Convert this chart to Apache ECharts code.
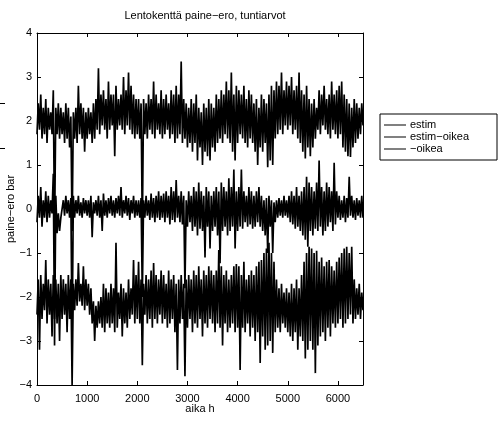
<!DOCTYPE html>
<html><head><meta charset="utf-8">
<script src="https://cdn.jsdelivr.net/npm/echarts@6/dist/echarts.min.js"></script>
<style>html,body{margin:0;padding:0;background:#fff}#c{width:501px;height:421px}</style>
</head><body><div id="c"></div>
<script>
// hourly pressure difference, read per 50 h column (t = 50*i): local low and high
const stepHours = 50;
const seriesNames = ['estim', 'estim\u2212oikea', '\u2212oikea'];
const xTicks = [0, 1000, 2000, 3000, 4000, 5000, 6000];
const yTicks = [-4, -3, -2, -1, 0, 1, 2, 3, 4];

const uHi = [2.4,2.6,2.3,2.5,2.3,2.2,2.7,2.3,2.4,2.3,
 2.2,2.4,2.3,2.1,2.2,2.3,2.8,2.4,2.3,2.2,
 2.3,2.2,2.4,2.5,3.2,2.6,2.7,2.5,2.9,2.6,
 2.6,2.8,2.5,2.6,3.0,2.7,3.1,2.8,2.6,2.5,
 2.5,2.4,2.5,2.4,2.6,2.5,2.9,2.6,2.4,2.7,
 2.5,2.6,2.4,2.7,2.6,2.8,2.6,3.35,2.5,2.4,
 2.3,2.5,2.4,2.6,2.3,2.2,2.4,2.3,2.5,2.4,
 2.3,2.6,2.5,2.7,2.6,2.9,2.7,3.1,2.6,2.8,
 2.7,2.6,2.8,2.5,2.7,2.6,2.4,2.5,2.3,2.6,
 2.5,2.4,2.6,2.8,2.7,2.9,2.8,3.1,2.7,2.9,
 2.8,3.0,2.7,2.8,3.1,2.7,2.6,2.8,2.5,2.4,
 2.5,2.3,2.7,2.6,2.8,2.5,2.6,2.9,2.6,2.7,
 2.8,2.9,2.6,2.5,2.4,2.3,2.5,2.4,2.3,2.4,2.3];
const uLo = [1.7,1.8,1.6,1.7,1.5,1.8,1.7,-0.6,1.7,1.6,
 1.7,1.5,1.6,1.4,-0.5,1.6,1.5,1.7,1.6,1.3,
 1.6,1.7,1.5,1.6,1.8,1.7,1.9,1.8,1.6,1.8,
 1.9,1.2,1.8,1.9,1.8,1.7,1.9,1.8,1.7,1.6,
 1.7,1.6,-0.5,1.7,1.6,1.8,1.7,1.6,1.8,1.7,
 1.6,1.7,1.8,1.6,1.7,1.5,1.6,1.7,1.5,1.6,
 1.4,1.5,1.3,1.5,1.1,1.4,1.0,1.3,1.2,1.1,
 1.4,1.3,1.5,1.6,1.5,1.7,1.6,1.5,1.3,1.1,
 1.5,1.7,1.6,1.5,1.4,1.6,1.5,1.3,1.0,1.4,
 1.3,1.5,0.95,1.1,1.0,1.6,1.7,1.8,1.7,1.9,
 1.8,1.9,1.7,1.8,1.6,1.5,1.3,1.15,1.4,1.2,
 1.4,1.6,1.8,1.7,1.9,1.8,1.7,1.6,1.8,1.7,
 1.6,1.7,1.4,1.3,1.2,1.18,1.4,1.5,1.6,1.7,1.9];

const mHi = [0.3,0.5,0.2,0.4,0.3,0.2,0.8,0.3,-0.1,-0.2,
 0.2,0.3,0.2,0.25,0.3,0.2,0.3,0.15,0.25,0.2,
 0.2,0.3,0.15,0.2,0.3,0.2,0.35,0.2,0.25,0.3,
 0.2,0.25,0.3,0.5,0.2,0.3,0.25,0.2,0.3,0.2,
 0.2,0.25,0.2,0.3,0.2,0.35,0.25,0.3,0.4,0.3,
 0.35,0.4,0.3,0.5,0.4,0.66,0.3,0.4,0.3,0.2,
 0.4,0.3,0.5,0.4,0.6,0.4,0.3,0.5,0.4,0.3,
 0.4,0.5,0.4,0.6,0.5,0.4,0.7,0.5,0.9,0.4,
 0.5,0.9,0.4,0.3,0.5,0.4,0.3,0.4,0.5,0.3,
 0.2,0.25,0.3,0.2,0.15,0.2,0.25,0.2,0.3,0.2,
 0.3,0.4,0.3,0.5,0.3,0.4,0.5,0.73,0.6,0.5,
 0.4,0.6,1.1,0.5,0.4,0.6,0.5,0.4,1.05,0.4,
 0.3,0.2,0.3,0.25,0.73,0.3,0.2,0.25,0.2,0.3,0.2];
const mLo = [-0.3,-0.2,-0.4,-0.2,-0.3,-0.2,-0.1,-3.1,-0.55,-0.5,
 -0.2,-0.15,-0.1,-0.2,-3.0,-0.2,-0.1,-0.15,-0.2,-0.1,
 -0.15,-0.2,-0.64,-0.1,-0.15,-0.2,-0.5,-0.15,-0.2,-0.1,
 -0.15,-0.2,-0.1,-0.15,-0.2,-0.1,-0.15,-0.25,-0.1,-0.2,
 -0.15,-0.2,-2.0,-0.2,-0.15,-0.25,-0.2,-0.3,-0.2,-0.25,
 -0.2,-0.3,-0.2,-0.35,-0.25,-0.3,-0.2,-0.3,-0.35,-1.8,
 -0.4,-0.3,-0.5,-0.4,-0.6,-0.45,-0.5,-1.1,-0.4,-0.9,
 -0.5,-0.4,-0.6,-1.23,-0.5,-0.4,-0.6,-0.5,-0.4,-0.9,
 -0.5,-0.4,-0.45,-0.3,-0.4,-0.35,-0.45,-0.4,-0.3,-0.4,
 -0.5,-0.6,-1.0,-0.4,-1.0,-0.3,-0.2,-0.15,-0.2,-0.15,
 -0.2,-0.3,-0.35,-0.45,-0.4,-0.5,-0.6,-0.7,-0.86,-0.5,
 -0.6,-0.45,-0.5,-0.4,-0.6,-0.5,-0.4,-0.3,-0.5,-0.35,
 -0.2,-0.25,-0.2,-0.3,-0.2,-0.15,-0.2,-0.25,-0.15,-0.2,-0.2];

const lHi = [-1.6,-1.5,-1.7,-1.16,-1.6,-1.7,-1.5,-1.6,-1.7,-1.5,
 -1.6,-1.7,-1.5,-1.6,-1.7,-1.6,-1.23,-1.7,-1.3,-1.6,
 -1.7,-1.8,-2.1,-2.2,-2.1,-2.0,-1.7,-1.8,-1.9,-1.7,
 -1.8,-0.77,-1.9,-1.7,-1.8,-1.9,-1.6,-1.8,-1.16,-1.5,
 -1.2,-1.6,-1.7,-1.5,-1.6,-1.4,-1.23,-1.5,-1.6,-1.4,
 -1.5,-1.7,-1.4,-1.6,-1.5,-1.7,-1.6,-1.5,-1.7,-1.6,
 -1.5,-1.6,-1.4,-1.5,-1.3,-1.6,-1.4,-1.5,-1.3,-1.4,
 -1.5,-1.4,-0.93,-1.3,-1.5,-1.4,-1.6,-1.5,-1.3,-1.25,
 -1.3,-1.5,-1.2,-1.6,-1.5,-1.4,-1.5,-1.3,-1.2,-1.16,
 -1.0,-0.9,-0.77,-1.0,-1.2,-1.6,-1.8,-1.7,-1.9,-1.8,
 -1.9,-1.7,-1.8,-1.6,-1.8,-1.5,-1.2,-1.0,-0.86,-0.9,
 -1.0,-0.95,-1.2,-1.1,-1.3,-1.2,-1.16,-1.3,-1.4,-1.2,
 -1.1,-1.0,-0.9,-0.86,-1.0,-0.86,-1.6,-1.8,-1.7,-1.9,-2.0];
const lLo = [-2.4,-3.2,-2.5,-2.3,-2.6,-2.4,-2.9,-2.5,-2.6,-3.0,
 -2.5,-2.4,-2.8,-2.5,-4.0,-2.3,-2.2,-2.1,-2.2,-2.3,
 -2.2,-2.4,-2.6,-3.0,-2.7,-2.6,-2.7,-2.8,-2.6,-2.7,
 -2.6,-2.8,-2.7,-2.5,-2.9,-2.6,-2.7,-2.5,-2.4,-2.6,
 -2.5,-2.6,-3.55,-2.4,-2.6,-2.5,-2.7,-2.5,-2.6,-2.4,
 -2.6,-2.5,-2.7,-2.6,-2.5,-2.8,-3.66,-2.6,-2.5,-3.8,
 -2.7,-2.5,-2.8,-2.6,-2.7,-2.5,-2.9,-2.6,-2.7,-2.5,
 -2.6,-2.8,-2.6,-2.7,-3.1,-2.6,-2.8,-2.7,-2.6,-2.8,
 -2.7,-3.66,-2.7,-2.8,-2.6,-2.9,-2.7,-3.0,-2.8,-3.5,
 -2.9,-3.2,-3.1,-3.0,-3.27,-2.8,-2.7,-2.8,-2.6,-2.7,
 -2.8,-2.9,-3.0,-2.8,-3.2,-2.9,-3.0,-3.4,-3.2,-3.0,
 -3.2,-3.73,-3.1,-2.9,-2.8,-3.0,-2.7,-2.9,-2.6,-2.7,
 -2.6,-2.5,-2.7,-2.6,-2.5,-2.4,-2.6,-2.5,-2.4,-2.5,-2.3];

function build(lo, hi) {
  const d = [];
  for (let i = 0; i < lo.length; i++) {
    d.push([i * stepHours, lo[i]]);
    if (i < lo.length - 1) d.push([i * stepHours + stepHours / 2, hi[i]]);
  }
  return d;
}
const FONT = 'Liberation Sans';
const minus = v => String(v).replace('-', '\u2212');
const chart = echarts.init(document.getElementById('c'), null, {renderer: 'canvas'});
const mkSeries = (name, lo, hi) => ({
  name, type: 'line', data: build(lo, hi), symbol: 'none', showSymbol: false,
  sampling: null, animation: false, clip: true,
  lineStyle: {color: '#000', width: 1.7, join: 'miter', miterLimit: 4}, itemStyle: {color: '#000'}
});
const axisBase = {
  axisLine: {show: true, onZero: false, lineStyle: {color: '#000', width: 1}},
  axisTick: {show: true, inside: true, length: 4, lineStyle: {color: '#000'}},
  splitLine: {show: false}
};
chart.setOption({
  animation: false,
  backgroundColor: '#fff',
  title: {text: 'Lentokenttä paine\u2212ero, tuntiarvot', left: 200, top: 5, textAlign: 'center',
    textStyle: {fontFamily: FONT, fontSize: 11, fontWeight: 'normal', color: '#000'}},
  grid: {left: 37, right: 138, top: 33, bottom: 36, show: false, containLabel: false, outerBoundsMode: 'none'},
  legend: {
    orient: 'vertical', left: 380, top: 114, itemWidth: 22, itemHeight: 1, itemGap: 0,
    icon: 'rect', padding: [5, 28, 5, 4], borderColor: '#000', borderWidth: 1, backgroundColor: '#fff',
    textStyle: {fontFamily: FONT, fontSize: 11, color: '#000', lineHeight: 12, padding: [0, 0, 0, -1]},
    itemStyle: {color: '#000'},
    data: seriesNames
  },
  xAxis: [Object.assign({
    type: 'value', min: 0, max: 6500, interval: 1000, position: 'bottom',
    name: 'aika h', nameLocation: 'middle', nameGap: 18, nameMoveOverlap: false,
    nameTextStyle: {fontFamily: FONT, fontSize: 11, color: '#000'},
    axisLabel: {fontFamily: FONT, fontSize: 11, color: '#000', margin: 8,
      formatter: v => xTicks.includes(v) ? minus(v) : ''}
  }, axisBase), Object.assign({
    type: 'value', min: 0, max: 6500, interval: 1000, position: 'top',
    axisLabel: {show: false}
  }, axisBase)],
  yAxis: [Object.assign({
    type: 'value', min: -4, max: 4, interval: 1, position: 'left',
    name: 'paine\u2212ero bar', nameLocation: 'middle', nameGap: 21, nameRotate: 90, nameMoveOverlap: false,
    nameTextStyle: {fontFamily: FONT, fontSize: 11, color: '#000'},
    axisLabel: {fontFamily: FONT, fontSize: 11, color: '#000', margin: 5,
      formatter: v => yTicks.includes(v) ? minus(v) : ''}
  }, axisBase), Object.assign({
    type: 'value', min: -4, max: 4, interval: 1, position: 'right',
    axisLabel: {show: false}
  }, axisBase)],
  series: [
    mkSeries(seriesNames[0], uLo, uHi),
    mkSeries(seriesNames[1], mLo, mHi),
    mkSeries(seriesNames[2], lLo, lHi)
  ],
  graphic: [
    {type: 'line', shape: {x1: 0, y1: 103.5, x2: 5, y2: 103.5}, style: {stroke: '#000', lineWidth: 1}},
    {type: 'line', shape: {x1: 0, y1: 148.5, x2: 5, y2: 148.5}, style: {stroke: '#000', lineWidth: 1}}
  ]
});
</script></body></html>
